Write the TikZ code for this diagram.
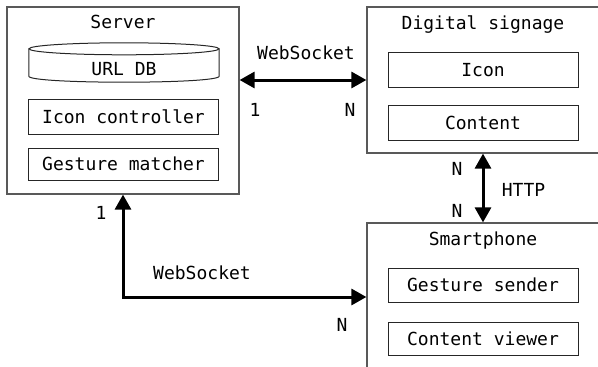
\documentclass[tikz,border=0pt]{standalone}
\usepackage{fontspec}
\setmonofont{DejaVu Sans Mono}
\usetikzlibrary{arrows.meta}
\begin{document}
\begin{tikzpicture}[x=1pt,y=-1pt,
  every node/.style={font=\ttfamily\fontsize{18}{21}\selectfont, inner sep=0pt},
  lbl/.style={text height=13pt, text depth=0pt},
  outerbox/.style={draw=black!65, line width=1.2pt},
  innerbox/.style={draw=black!85, line width=1pt, minimum width=190pt, text height=13pt, text depth=0pt},
  conn/.style={line width=3pt, {Triangle[length=15pt,width=16pt]}-{Triangle[length=15pt,width=16pt]}}
]
\useasboundingbox (0,0) rectangle (598,367);
\clip (0,0) rectangle (598,367);

% Server
\node[outerbox, minimum width=232pt, minimum height=187pt] (server) at (123,100.5) {};
\node[lbl] (serverT) at (123,22) {Server};
\node[minimum width=190pt, minimum height=39pt] (db) at (124,62.5) {};
\node[lbl] (dbT) at (124,69) {URL DB};
\draw[draw=black!85, line width=1pt] (db.north) ++(0,6) ellipse [x radius=95, y radius=6];
\draw[draw=black!85, line width=1pt] ([yshift=-6pt]db.north west) -- ([yshift=6pt]db.south west)
   .. controls ([yshift=-2pt]db.south west) and ([yshift=-2pt]db.south east) .. ([yshift=6pt]db.south east)
   -- ([yshift=-6pt]db.north east);
\node[innerbox, minimum height=35pt] (iconctl) at (123.5,116.5) {Icon controller};
\node[innerbox, minimum height=32pt] (gesture) at (123.5,164) {Gesture matcher};

% Digital signage
\node[outerbox, minimum width=253pt, minimum height=146pt] (sign) at (493.5,80) {};
\node[lbl] (signT) at (483,23) {Digital signage};
\node[innerbox, minimum height=35pt] (icon) at (483,69.5) {Icon};
\node[innerbox, minimum height=35pt] (content) at (483,122.5) {Content};

% Smartphone
\node[outerbox, minimum width=253pt, minimum height=177pt] (phone) at (493.5,311.5) {};
\node[lbl] (phoneT) at (483,239) {Smartphone};
\node[innerbox, minimum height=34pt] (gsender) at (483,285) {Gesture sender};
\node[innerbox, minimum height=33pt] (cviewer) at (483,338.5) {Content viewer};

% Connectors
\draw[conn] (server.east |- sign.west) -- (sign.west);
\draw[conn] (signT |- sign.south) -- (signT |- phone.north);
\draw[conn] (server.south) |- ([yshift=14.5pt]phone.west);

% Labels
\node[lbl] (ws1) at (306,53) {WebSocket};
\node[lbl] (one1) at (255,110) {1};
\node[lbl] (n1) at (350,110) {N};
\node[lbl] (n2) at (457,169) {N};
\node[lbl] (n3) at (457,211) {N};
\node[lbl] (http) at (523.5,190) {HTTP};
\node[lbl] (one2) at (101,213) {1};
\node[lbl] (ws2) at (202,273) {WebSocket};
\node[lbl] (n4) at (342,325) {N};
\end{tikzpicture}
\end{document}
